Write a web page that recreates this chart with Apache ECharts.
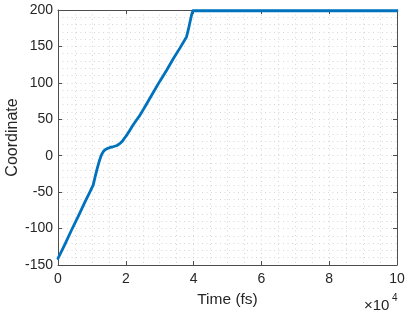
<!DOCTYPE html>
<html>
<head>
<meta charset="utf-8">
<script src="https://cdn.jsdelivr.net/npm/echarts@6/dist/echarts.min.js"></script>
<style>html,body{margin:0;padding:0;background:#fff;}#c{width:407px;height:315px;}</style>
</head>
<body>
<div id="c"></div>
<script>
// Time in units of 10^4 fs
var timeE4 = [0.00, 0.20, 0.40, 0.60, 0.80, 0.95, 1.04, 1.10, 1.16, 1.22, 1.28, 1.34, 1.40, 1.46, 1.52, 1.60, 1.67, 1.74, 1.82, 1.90, 1.96, 2.04, 2.12, 2.20, 2.30, 2.41, 2.60, 2.80, 3.00, 3.20, 3.40, 3.60, 3.79, 3.85, 3.90, 3.95, 3.98, 5.00, 6.00, 7.00, 8.00, 9.00, 10.00];
var coordinate = [-141, -122, -102, -83, -63, -49, -40, -28, -17, -7, 1, 6, 8.5, 10, 11, 12, 13, 14, 16.5, 20, 24, 29, 35, 41, 48, 55, 70, 86, 102, 117, 133, 148, 163, 174, 185, 195, 199, 199, 199, 199, 199, 199, 199];
var xTicks = {min: 0, max: 10, interval: 2};
var yTicks = {min: -150, max: 200, interval: 50};

var font = '"Liberation Sans", Arial, Helvetica, sans-serif';
var axisCol = '#4d4d4d';
var txtCol = '#262626';
var gridDash = {color: '#d6d6d6', type: [1, 3.5], width: 1};

var pts = timeE4.map(function (t, i) { return [t, coordinate[i]]; });

var chart = echarts.init(document.getElementById('c'), null, {renderer: 'canvas'});
chart.setOption({
  animation: false,
  backgroundColor: '#fff',
  grid: {left: 58, right: 10, top: 10, bottom: 50, containLabel: false, outerBoundsMode: 'none'},
  xAxis: [{
    type: 'value', position: 'bottom', min: xTicks.min, max: xTicks.max, interval: xTicks.interval,
    name: 'Time (fs)', nameLocation: 'middle', nameGap: 27, nameMoveOverlap: false,
    nameTextStyle: {fontFamily: font, fontSize: 15.5, color: txtCol},
    axisLine: {show: true, onZero: false, lineStyle: {color: axisCol, width: 1}},
    axisTick: {show: true, inside: true, length: 4, lineStyle: {color: axisCol}},
    axisLabel: {fontFamily: font, fontSize: 14, color: txtCol, margin: 7},
    splitLine: {show: true, lineStyle: gridDash},
    minorTick: {show: false, splitNumber: 4},
    minorSplitLine: {show: true, lineStyle: gridDash}
  }, {
    type: 'value', position: 'top', min: xTicks.min, max: xTicks.max, interval: xTicks.interval,
    axisLine: {show: true, onZero: false, lineStyle: {color: axisCol, width: 1}},
    axisTick: {show: true, inside: true, length: 4, lineStyle: {color: axisCol}},
    axisLabel: {show: false}, splitLine: {show: false}
  }],
  yAxis: [{
    type: 'value', position: 'left', min: yTicks.min, max: yTicks.max, interval: yTicks.interval,
    name: 'Coordinate', nameLocation: 'middle', nameGap: 37, nameRotate: 90, nameMoveOverlap: false,
    nameTextStyle: {fontFamily: font, fontSize: 16, color: txtCol},
    axisLine: {show: true, onZero: false, lineStyle: {color: axisCol, width: 1}},
    axisTick: {show: true, inside: true, length: 4, lineStyle: {color: axisCol}},
    axisLabel: {fontFamily: font, fontSize: 14, color: txtCol, margin: 5},
    splitLine: {show: true, lineStyle: gridDash},
    minorTick: {show: false, splitNumber: 5},
    minorSplitLine: {show: true, lineStyle: gridDash}
  }, {
    type: 'value', position: 'right', min: yTicks.min, max: yTicks.max, interval: yTicks.interval,
    axisLine: {show: true, onZero: false, lineStyle: {color: axisCol, width: 1}},
    axisTick: {show: true, inside: true, length: 4, lineStyle: {color: axisCol}},
    axisLabel: {show: false}, splitLine: {show: false}
  }],
  series: [{
    type: 'line', xAxisIndex: 0, yAxisIndex: 0, data: pts,
    showSymbol: false, symbol: 'none', clip: false,
    lineStyle: {color: '#0072BD', width: 2.8, join: 'round', cap: 'round'},
    z: 5
  }],
  graphic: [
    {type: 'text', left: 364, top: 298, style: {text: '×10', font: '15px ' + font, fill: txtCol}},
    {type: 'text', left: 392, top: 293, style: {text: '4', font: '10px ' + font, fill: txtCol}}
  ]
});
</script>
</body>
</html>
